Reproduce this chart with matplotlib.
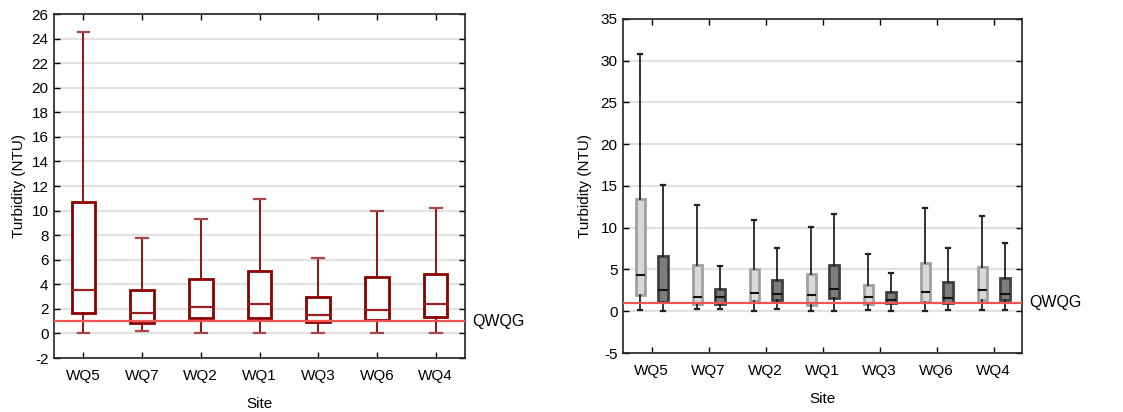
"""
Turbidity box plots per site, with QWQG guideline.
"""

import numpy as np
import matplotlib
matplotlib.use("Agg")
import matplotlib.pyplot as plt
from matplotlib.ticker import MultipleLocator
import matplotlib.transforms as mtransforms

plt.rcParams["font.family"] = ["Liberation Sans", "DejaVu Sans"]
plt.rcParams["font.size"] = 11
plt.rcParams["axes.unicode_minus"] = False

sites = ["WQ5", "WQ7", "WQ2", "WQ1", "WQ3", "WQ6", "WQ4"]
qwqg = 1.0

# left panel: whisker low, q1, median, q3, whisker high
left_lo = [0.05, 0.2, 0.06, 0.01, 0.04, 0.04, 0.06]
left_q1 = [1.64, 0.85, 1.23, 1.26, 0.9, 1.07, 1.34]
left_med = [3.51, 1.69, 2.18, 2.37, 1.5, 1.94, 2.43]
left_q3 = [10.71, 3.54, 4.44, 5.09, 3.0, 4.6, 4.84]
left_hi = [24.5, 7.78, 9.35, 10.98, 6.15, 9.98, 10.22]

# right panel, light series
light_lo = [0.18, 0.22, 0.04, 0.0, 0.12, 0.04, 0.12]
light_q1 = [1.9, 0.84, 1.2, 0.72, 0.92, 1.12, 1.32]
light_med = [4.32, 1.72, 2.24, 1.92, 1.72, 2.36, 2.6]
light_q3 = [13.5, 5.58, 5.0, 4.48, 3.2, 5.72, 5.32]
light_hi = [30.85, 12.77, 10.96, 10.08, 6.83, 12.31, 11.39]

# right panel, dark series
dark_lo = [0.02, 0.22, 0.28, 0.08, 0.04, 0.12, 0.2]
dark_q1 = [1.06, 0.84, 1.32, 1.56, 1.0, 1.0, 1.32]
dark_med = [2.56, 1.72, 2.12, 2.64, 1.32, 1.64, 2.12]
dark_q3 = [6.66, 2.7, 3.8, 5.48, 2.36, 3.52, 4.04]
dark_hi = [15.12, 5.44, 7.6, 11.6, 4.6, 7.52, 8.15]


def make_stats(lo, q1, med, q3, hi):
    return [dict(whislo=a, q1=b, med=c, q3=d, whishi=e, fliers=[])
            for a, b, c, d, e in zip(lo, q1, med, q3, hi)]


def style_axes(ax):
    ax.tick_params(direction="in", top=True, right=True, length=4,
                   width=1, labelsize=11, pad=4)
    ax.tick_params(axis="x", pad=8)
    for sp in ax.spines.values():
        sp.set_linewidth(1.2)
        sp.set_color("#222222")
    ax.yaxis.grid(True, color="#e2e2e2", linewidth=1.6)
    ax.set_axisbelow(True)


def add_qwqg(ax):
    ax.axhline(qwqg, color="#f05555", linewidth=1.6, zorder=4)
    trans = mtransforms.blended_transform_factory(ax.transAxes, ax.transData)
    ax.text(1.018, qwqg, "QWQG", transform=trans, ha="left", va="center",
            fontsize=11.5, clip_on=False)


fig = plt.figure(figsize=(11.23, 4.12), dpi=100)

# left panel
ax1 = fig.add_axes([0.0481, 0.131, 0.366, 0.835])
pos = np.arange(1, len(sites) + 1)
dred = "#8b0000"
ax1.bxp(make_stats(left_lo, left_q1, left_med, left_q3, left_hi),
        positions=pos, widths=0.4, showfliers=False, patch_artist=True,
        boxprops=dict(facecolor="white", edgecolor=dred, linewidth=2),
        medianprops=dict(color="#9a2020", linewidth=1.6),
        whiskerprops=dict(color=dred, linewidth=1.3),
        capprops=dict(color="#a84848", linewidth=1.6), capwidths=0.2)
add_qwqg(ax1)
ax1.set_xlim(0.5, len(sites) + 0.5)
ax1.set_ylim(-2, 26)
ax1.yaxis.set_major_locator(MultipleLocator(2))
ax1.set_xticks(pos)
ax1.set_xticklabels(sites)
ax1.set_xlabel("Site", labelpad=10)
ax1.set_ylabel("Turbidity (NTU)", labelpad=4)
style_axes(ax1)

# right panel
ax2 = fig.add_axes([0.5548, 0.1432, 0.3553, 0.8108])
off = 0.2
ax2.bxp(make_stats(light_lo, light_q1, light_med, light_q3, light_hi),
        positions=pos - off, widths=0.16, showfliers=False, patch_artist=True,
        boxprops=dict(facecolor="#d9d9d9", edgecolor="#a0a0a0", linewidth=2),
        medianprops=dict(color="#111111", linewidth=1.5),
        whiskerprops=dict(color="#111111", linewidth=1.2),
        capprops=dict(color="#222222", linewidth=1.6), capwidths=0.06)
ax2.bxp(make_stats(dark_lo, dark_q1, dark_med, dark_q3, dark_hi),
        positions=pos + off, widths=0.16, showfliers=False, patch_artist=True,
        boxprops=dict(facecolor="#7d7d7d", edgecolor="#404040", linewidth=2),
        medianprops=dict(color="#111111", linewidth=1.5),
        whiskerprops=dict(color="#111111", linewidth=1.2),
        capprops=dict(color="#222222", linewidth=1.6), capwidths=0.06)
add_qwqg(ax2)
ax2.set_xlim(0.5, len(sites) + 0.5)
ax2.set_ylim(-5, 35)
ax2.yaxis.set_major_locator(MultipleLocator(5))
ax2.set_xticks(pos)
ax2.set_xticklabels(sites)
ax2.set_xlabel("Site", labelpad=10)
ax2.set_ylabel("Turbidity (NTU)", labelpad=6)
style_axes(ax2)

fig.savefig("out.png", dpi=100)
